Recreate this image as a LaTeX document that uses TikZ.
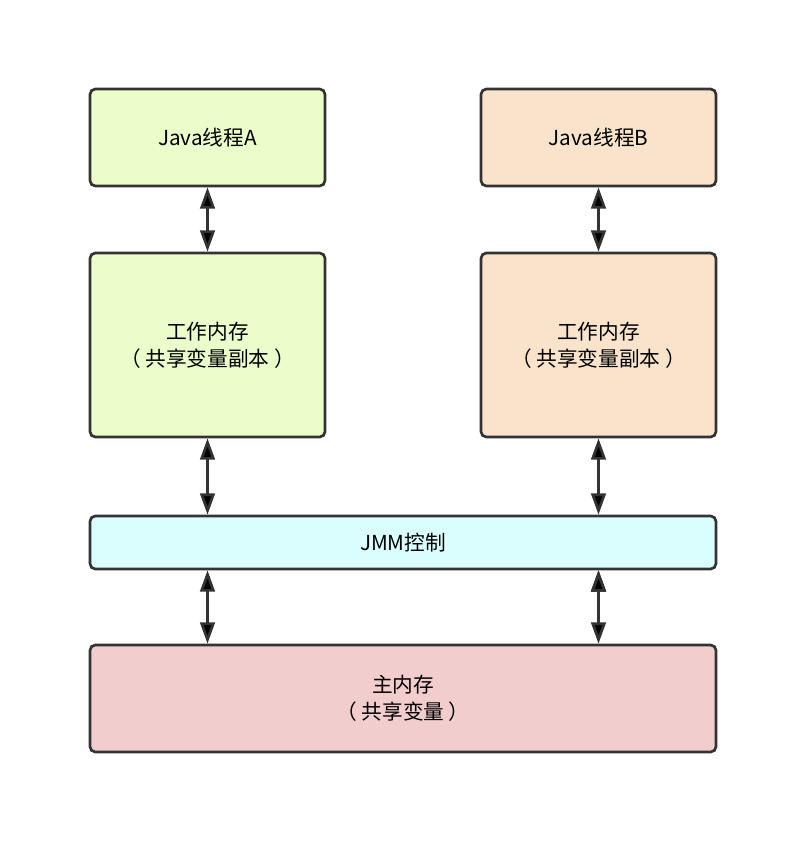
\documentclass[tikz,border=0pt]{standalone}
\usepackage{fontspec}
\setmainfont{Noto Sans CJK SC}
\usepackage{tikz}
\usetikzlibrary{arrows.meta,positioning}

\definecolor{threadA}{HTML}{EBFDCB}
\definecolor{threadB}{HTML}{F9E4CB}
\definecolor{jmmcol}{HTML}{DAFEFE}
\definecolor{maincol}{HTML}{F2CDCD}
\definecolor{edgecol}{HTML}{333333}

\begin{document}
\begin{tikzpicture}[x=0.75pt,y=-0.75pt,<->,>={Triangle[length=16pt,width=11pt]},
                    line width=2pt]
\tikzstyle{every node}=[font=\fontsize{15.5pt}{20.5pt}\selectfont,text=black]
\tikzstyle{box}=[draw=edgecol,rounded corners=4pt,align=center,inner sep=0pt]

\useasboundingbox (0,0) rectangle (806,847);

        \node[box, fill=threadA, minimum width=176.25pt, minimum height=72.75pt]  (ta) at (207.5,137.5) {Java线程A};
        \node[box, fill=threadB, minimum width=176.25pt, minimum height=72.75pt]  (tb) at (598.5,137.5) {Java线程B};

        \node[box, fill=threadA, minimum width=176.25pt, minimum height=138pt]    (wa) at (207.5,345) {工作内存\\（ 共享变量副本 ）};
        \node[box, fill=threadB, minimum width=176.25pt, minimum height=138pt]    (wb) at (598.5,345) {工作内存\\（ 共享变量副本 ）};

        \node[box, fill=jmmcol, minimum width=469.5pt, minimum height=39.75pt]    (jmm) at (403,542.5) {JMM控制};
        \node[box, fill=maincol, minimum width=469.5pt, minimum height=80.25pt]   (main) at (403,698.5) {主内存\\（ 共享变量 ）};

        \path[draw=edgecol]
        (ta)   edge   (wa)
        (tb)   edge   (wb)
        (wa)   edge   (wa |- jmm.north)
        (wb)   edge   (wb |- jmm.north)
        (wa |- jmm.south)   edge   (wa |- main.north)
        (wb |- jmm.south)   edge   (wb |- main.north)
        ; %end path

\end{tikzpicture}
\end{document}
